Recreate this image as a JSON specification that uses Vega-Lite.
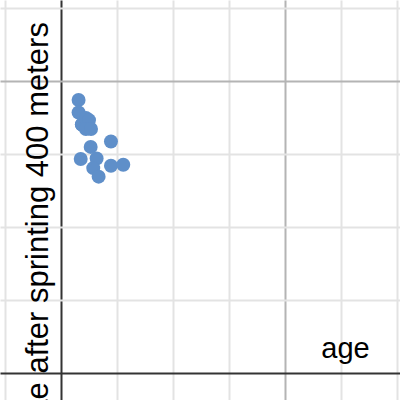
{
  "$schema": "https://vega.github.io/schema/vega-lite/v6.json",
  "width": 400,
  "height": 400,
  "autosize": "none",
  "padding": 0,
  "background": "white",
  "config": {"view": {"stroke": null}},
  "data": {
    "values": [
      {"age": 1.57, "heart_rate": 187.2},
      {"age": 1.57, "heart_rate": 178.6},
      {"age": 1.87, "heart_rate": 170.3},
      {"age": 1.87, "heart_rate": 170.3},
      {"age": 1.87, "heart_rate": 170.3},
      {"age": 2.23, "heart_rate": 174.8},
      {"age": 2.5, "heart_rate": 173.4},
      {"age": 2.23, "heart_rate": 167.3},
      {"age": 2.68, "heart_rate": 167.3},
      {"age": 2.65, "heart_rate": 155.0},
      {"age": 4.46, "heart_rate": 158.7},
      {"age": 1.76, "heart_rate": 146.7},
      {"age": 3.18, "heart_rate": 147.1},
      {"age": 2.88, "heart_rate": 140.5},
      {"age": 3.36, "heart_rate": 134.6},
      {"age": 4.46, "heart_rate": 142.1},
      {"age": 5.56, "heart_rate": 142.8}
    ]
  },
  "mark": {"type": "circle", "size": 195, "opacity": 1, "color": "#5f8fc9"},
  "encoding": {
    "x": {
      "field": "age",
      "type": "quantitative",
      "scale": {"domain": [-5.446, 30.268], "nice": false, "zero": false},
      "axis": {
        "orient": "bottom",
        "title": "age",
        "labels": false,
        "ticks": false,
        "domain": false,
        "grid": true,
        "values": [-5, 0, 5, 10, 15, 20, 25, 30],
        "gridWidth": 2,
        "gridOpacity": 1,
        "gridColor": {
          "condition": [
            {"test": "datum.value === 0", "value": "#333333"},
            {"test": "datum.value === 20", "value": "#b4b4b4"}
          ],
          "value": "#e3e3e3"
        },
        "titleFont": "Liberation Sans",
        "titleFontSize": 29,
        "titleFontWeight": "normal",
        "titleColor": "#000000",
        "titleAlign": "center",
        "titleBaseline": "alphabetic",
        "titleX": 345,
        "titleY": -43,
        "titleLimit": 1000
      }
    },
    "y": {
      "field": "heart_rate",
      "type": "quantitative",
      "scale": {"domain": [-18.51, 255.74], "nice": false, "zero": false},
      "axis": {
        "orient": "left",
        "title": "heart rate after sprinting 400 meters",
        "labels": false,
        "ticks": false,
        "domain": false,
        "grid": true,
        "values": [0, 50, 100, 150, 200, 250],
        "gridWidth": 2,
        "gridOpacity": 1,
        "gridColor": {
          "condition": [
            {"test": "datum.value === 0", "value": "#333333"},
            {"test": "datum.value === 200", "value": "#b4b4b4"}
          ],
          "value": "#e3e3e3"
        },
        "titleFont": "Liberation Sans",
        "titleFontSize": 31,
        "titleFontWeight": "normal",
        "titleColor": "#000000",
        "titleAngle": -90,
        "titleAlign": "center",
        "titleBaseline": "alphabetic",
        "titleX": 47,
        "titleY": 268,
        "titleLimit": 2000
      }
    }
  }
}
